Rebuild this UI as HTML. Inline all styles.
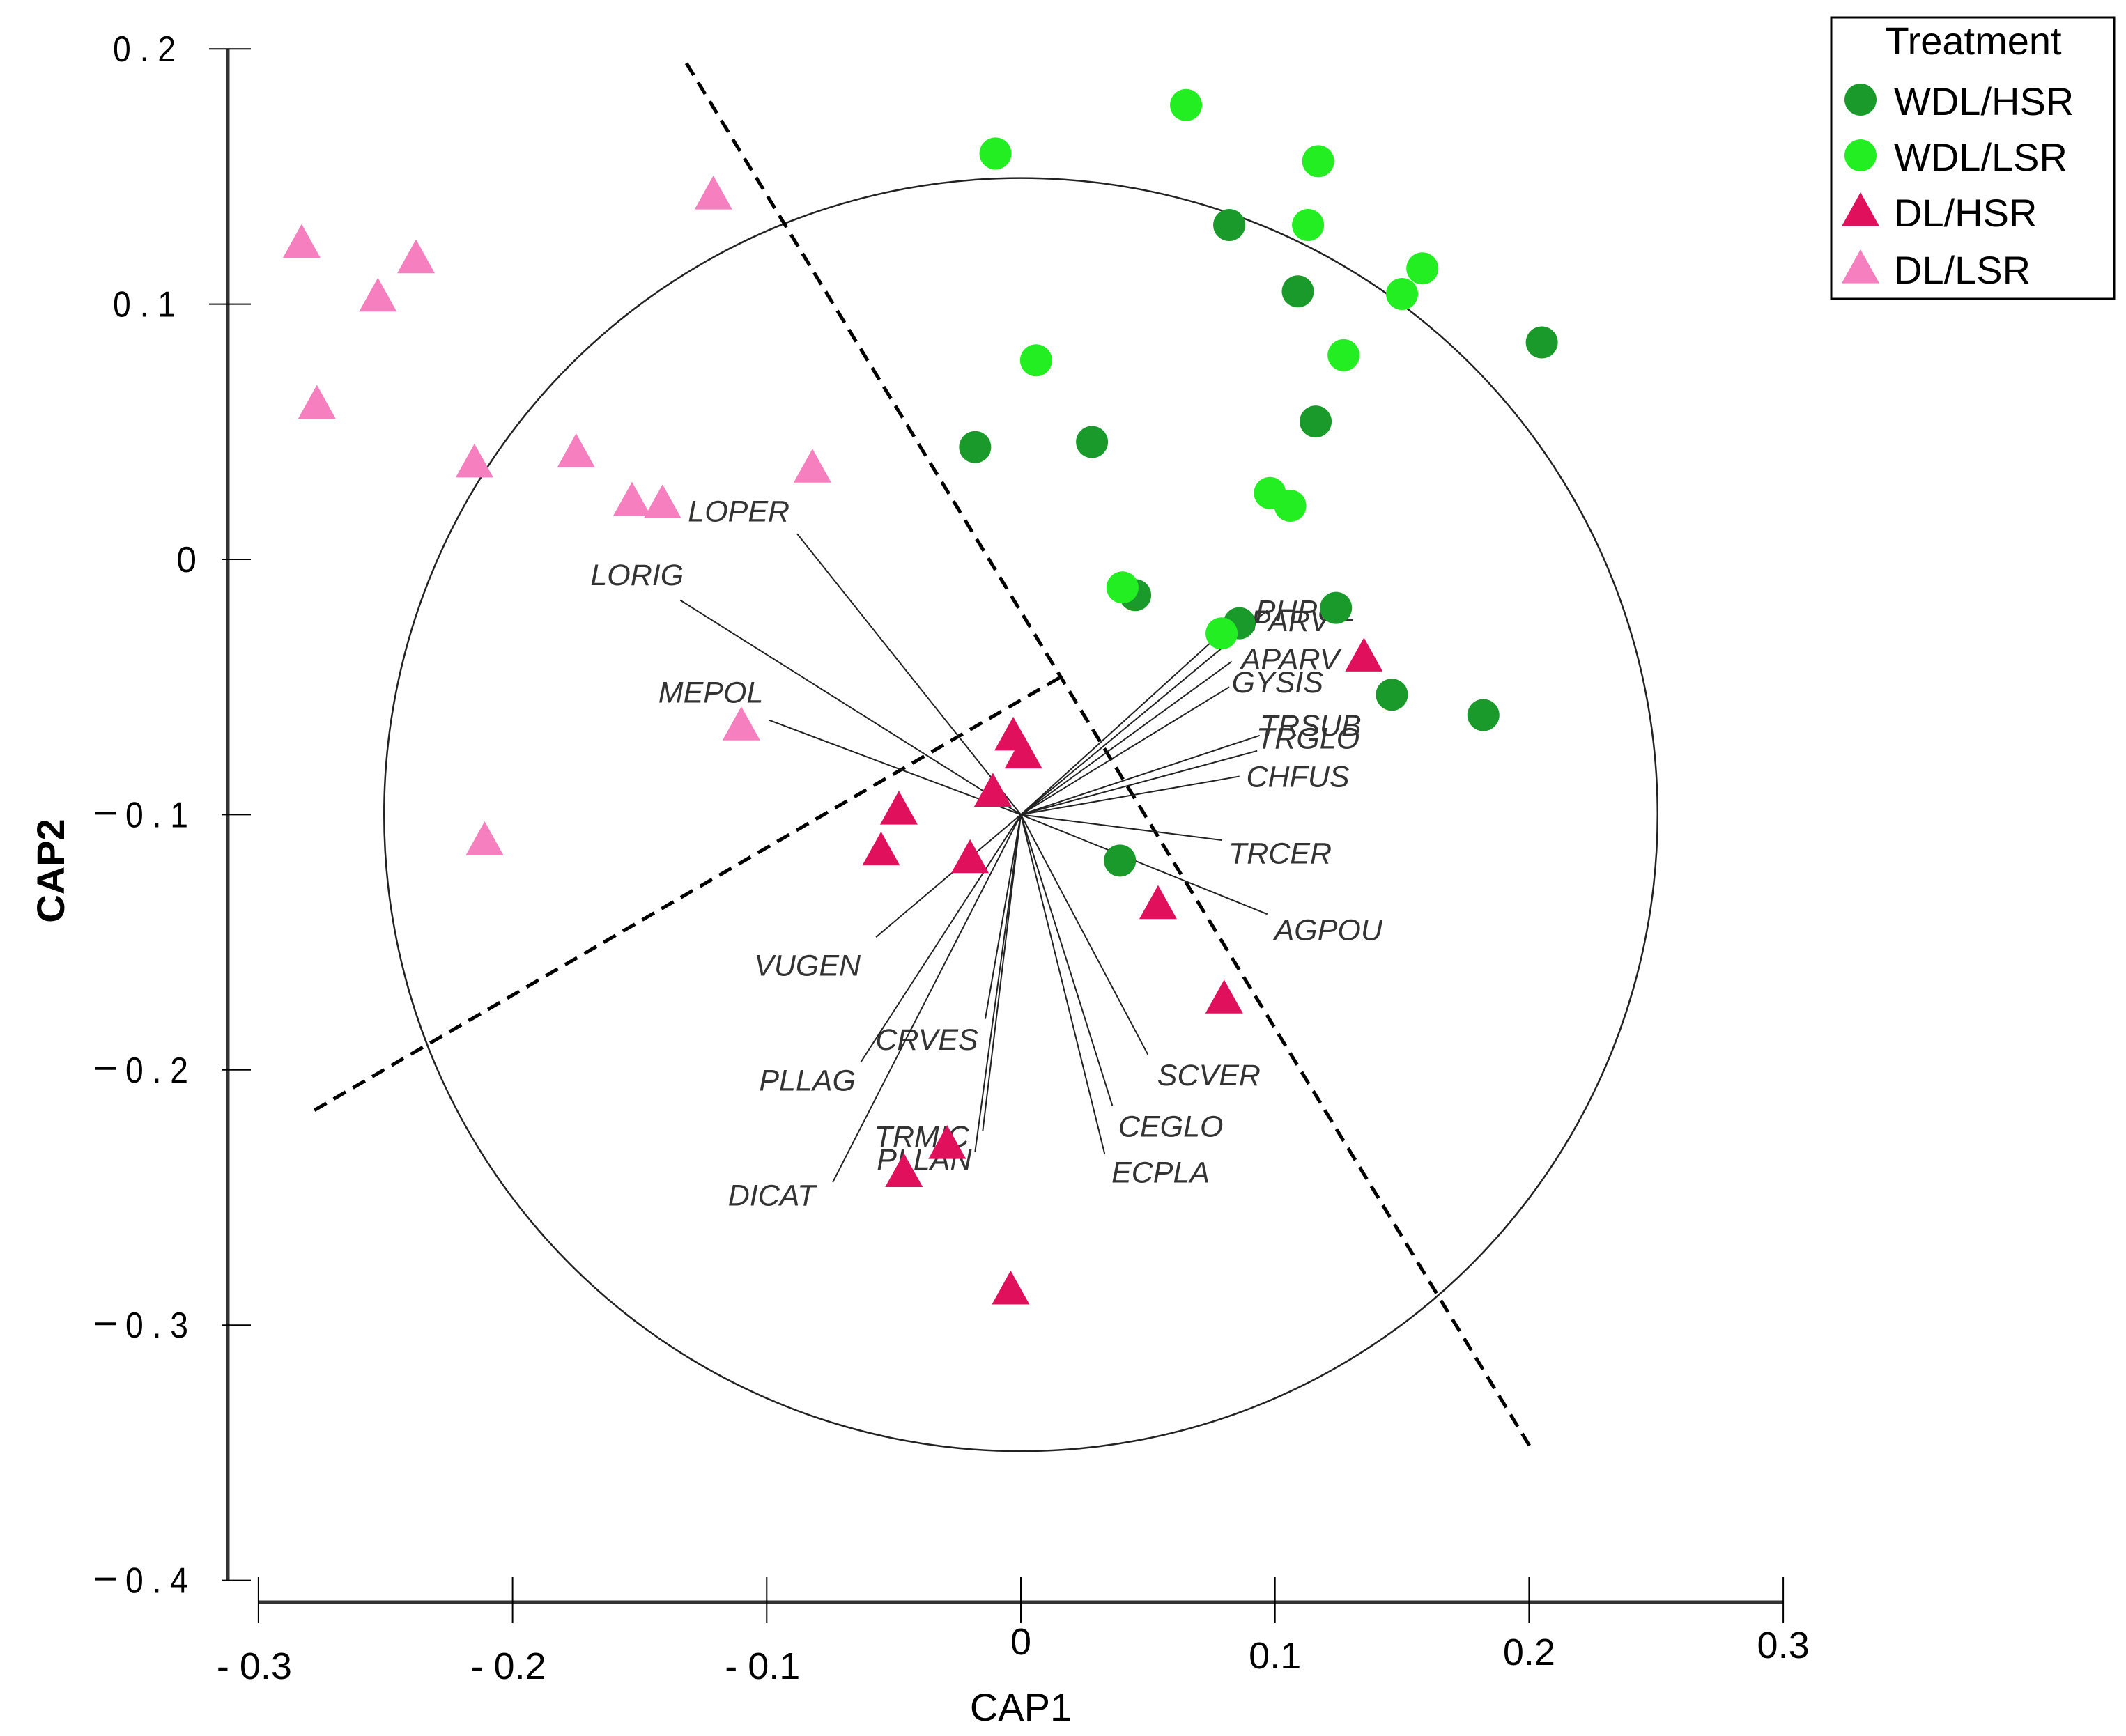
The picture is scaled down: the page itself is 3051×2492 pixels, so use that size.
<!DOCTYPE html>
<html><head><meta charset="utf-8"><style>
html,body{margin:0;padding:0;background:#fff;}
svg{display:block;font-family:"Liberation Sans",sans-serif;}
</style></head><body>
<svg id="chart" width="3051" height="2492" viewBox="0 0 3051 2492" xmlns="http://www.w3.org/2000/svg">
<g id="axes"></g>
<g id="marks"></g>
<g id="legend">
<rect x="2628" y="25" width="406" height="404" fill="#fff" stroke="#000" stroke-width="3"/>
<text x="2832" y="78" font-size="56" text-anchor="middle">Treatment</text>
</g>
</svg>
<script>
const xTicks=[-0.3,-0.2,-0.1,0,0.1,0.2,0.3];
const xTickLabels=["- 0.3","- 0.2","- 0.1","0","0.1","0.2","0.3"];
const yTicks=[0.2,0.1,0,-0.1,-0.2,-0.3,-0.4];
const yTickLabels=["0 . 2","0 . 1","0","0 . 1","0 . 2","0 . 3","0 . 4"];
const seriesNames=["WDL/HSR","WDL/LSR","DL/HSR","DL/LSR"];
const seriesColors=["#1a9a2a","#22ee22","#e0105c","#f57fbf"];
const wdlHsrX=[0.082,0.109,0.205,0.116,-0.018,0.028,0.045,0.124,0.086,0.146,0.182,0.039];
const wdlHsrY=[0.131,0.105,0.085,0.054,0.044,0.046,-0.014,-0.019,-0.025,-0.053,-0.061,-0.118];
const wdlLsrX=[0.065,-0.010,0.117,0.113,0.158,0.150,0.006,0.127,0.098,0.106,0.040,0.079];
const wdlLsrY=[0.178,0.159,0.156,0.131,0.114,0.104,0.078,0.080,0.026,0.021,-0.011,-0.029];
const dlHsrX=[0.135,-0.003,0.001,-0.011,-0.048,-0.055,-0.020,0.054,0.080,-0.029,-0.046,-0.004];
const dlHsrY=[-0.038,-0.069,-0.076,-0.091,-0.098,-0.114,-0.117,-0.135,-0.172,-0.229,-0.240,-0.286];
const dlLsrX=[-0.283,-0.238,-0.253,-0.277,-0.121,-0.215,-0.175,-0.153,-0.141,-0.082,-0.110,-0.211];
const dlLsrY=[0.124,0.118,0.103,0.061,0.143,0.038,0.042,0.023,0.022,0.036,-0.065,-0.110];
const vecNames=["LOPER","LORIG","MEPOL","VUGEN","CRVES","PLLAG","TRMIC","PLLAN","DICAT","SCVER","CEGLO","ECPLA","AGPOU","TRCER","CHFUS","TRGLO","TRSUB","GYSIS","APARV","SPARV","PHPUL"];
const vecX=[-0.088,-0.134,-0.099,-0.057,-0.014,-0.063,-0.015,-0.018,-0.074,0.050,0.036,0.033,0.097,0.079,0.086,0.093,0.094,0.082,0.083,0.082,0.097];
const vecY=[0.010,-0.016,-0.063,-0.148,-0.180,-0.197,-0.224,-0.232,-0.244,-0.194,-0.214,-0.233,-0.139,-0.110,-0.085,-0.075,-0.069,-0.050,-0.040,-0.026,-0.020];
const labX=[-0.111,-0.151,-0.122,-0.084,-0.037,-0.084,-0.039,-0.038,-0.098,0.074,0.059,0.055,0.121,0.102,0.109,0.113,0.114,0.101,0.106,0.102,0.112];
const labY=[0.019,-0.006,-0.052,-0.159,-0.188,-0.204,-0.226,-0.235,-0.249,-0.202,-0.222,-0.240,-0.145,-0.115,-0.085,-0.070,-0.065,-0.048,-0.039,-0.024,-0.020];
const vecOrigin=[0,-0.1];
const circleRadius=0.25;
const dash1=[[-0.1316,0.1944],[0.2005,-0.3478]];
const dash2=[[-0.278,-0.2158],[0.016,-0.0459]];

const NS="http://www.w3.org/2000/svg";
function X(v){return 1465+v*3647;}
function Y(v){return 803-v*3664;}
function mk(tag,attrs,parent){const e=document.createElementNS(NS,tag);for(const k in attrs)e.setAttribute(k,attrs[k]);parent.appendChild(e);return e;}
const axes=document.getElementById('axes'),marks=document.getElementById('marks'),legend=document.getElementById('legend');

let e=mk('line',{x1:327,y1:Y(0.2),x2:327,y2:Y(-0.4),stroke:'#333','stroke-width':5},axes);

e=mk('line',{x1:X(-0.3),y1:2300,x2:X(0.3),y2:2300,stroke:'#333','stroke-width':5},axes);

xTicks.forEach((t,i)=>{
  let l=mk('line',{x1:X(t),y1:2264,x2:X(t),y2:2330,stroke:'#000','stroke-width':2},axes);
  
  const ly=[2410,2410,2410,2375,2395,2390,2380][i];
  let tx=mk('text',{x:X(t)+(t<0?-6:0),y:ly,'font-size':54,'text-anchor':'middle'},axes);
  tx.textContent=xTickLabels[i];
  
});
yTicks.forEach((t,i)=>{
  let l=mk('line',{x1:t>=0.1?300:318,y1:Y(t),x2:360,y2:Y(t),stroke:'#000','stroke-width':2},axes);
  
  let attrs={x:t===0?282:(t>0?252:270),y:Y(t)+18,'font-size':52,'text-anchor':'end'};
  if(t!==0){attrs.textLength=90;attrs.lengthAdjust='spacingAndGlyphs';}
  let tx=mk('text',attrs,axes);
  tx.textContent=yTickLabels[i];
  
  if(t<0){
    let d=mk('line',{x1:136,y1:Y(t)-2,x2:166,y2:Y(t)-2,stroke:'#000','stroke-width':4},axes);
    
  }
});
e=mk('text',{x:1465,y:2470,'font-size':56,'text-anchor':'middle'},axes);e.textContent='CAP1';

e=mk('text',{x:0,y:0,'font-size':56,'font-weight':'bold','text-anchor':'middle',transform:'translate(92,1250) rotate(-90)'},axes);e.textContent='CAP2';


e=mk('circle',{cx:X(vecOrigin[0]),cy:Y(vecOrigin[1]),r:circleRadius*3655,fill:'none',stroke:'#222','stroke-width':2.5},marks);

[dash1,dash2].forEach(d=>{
  let l=mk('line',{x1:X(d[0][0]),y1:Y(d[0][1]),x2:X(d[1][0]),y2:Y(d[1][1]),stroke:'#000','stroke-width':5,'stroke-dasharray':'20 12'},marks);
  
});
vecNames.forEach((n,i)=>{
  let l=mk('line',{x1:X(vecOrigin[0]),y1:Y(vecOrigin[1]),x2:X(vecX[i]),y2:Y(vecY[i]),stroke:'#222','stroke-width':2},marks);
  
  let t=mk('text',{x:X(labX[i]),y:Y(labY[i])+15,'font-size':43,'font-style':'italic',fill:'#333','text-anchor':'middle'},marks);
  t.textContent=n;
  
});
function circleMark(x,y,c,p){const m=mk('circle',{cx:x,cy:y,r:23,fill:c},p);return m;}
function triMark(x,y,c,p){const s=27;const m=mk('polygon',{points:`${x},${y-s} ${x+s},${y+s*0.8} ${x-s},${y+s*0.8}`,fill:c},p);return m;}
const allX=[wdlHsrX,wdlLsrX,dlHsrX,dlLsrX],allY=[wdlHsrY,wdlLsrY,dlHsrY,dlLsrY];
allX.forEach((xs,s)=>{
  xs.forEach((v,i)=>{
    const m=(s<2?circleMark:triMark)(X(v),Y(allY[s][i]),seriesColors[s],marks);
    
    
  });
});
seriesNames.forEach((n,s)=>{
  const y=[145,225,305,387][s];
  const m=(s<2?circleMark:triMark)(2670,y-2,seriesColors[s],legend);
  
  
  const t=mk('text',{x:2718,y:y+20,'font-size':56},legend);t.textContent=n;
  
  
});
</script>
</body></html>
